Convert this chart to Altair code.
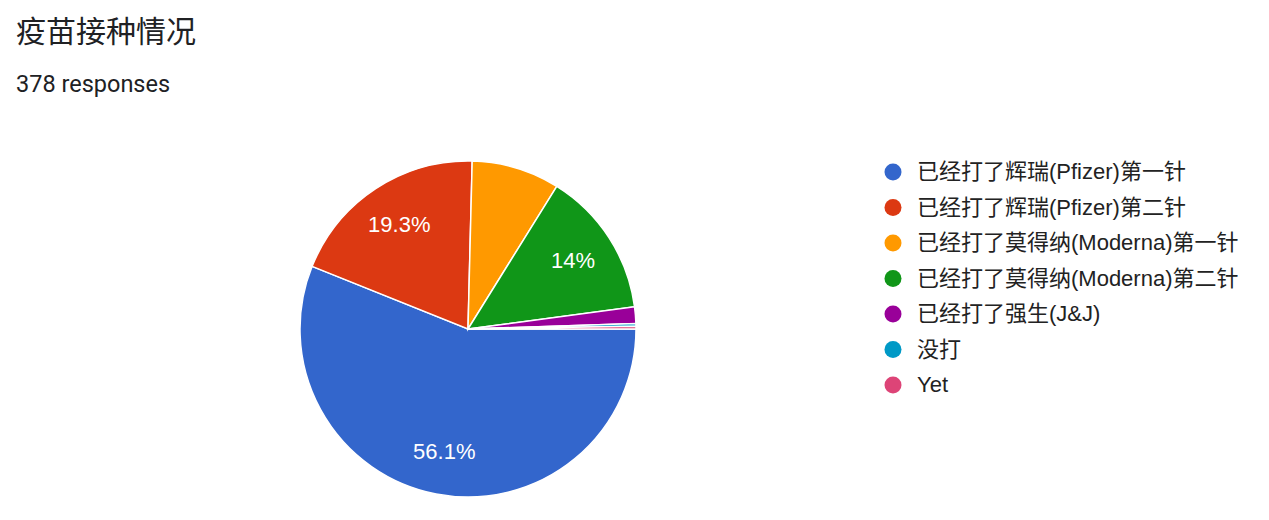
import altair as alt
import pandas as pd

categories = [
    "已经打了辉瑞(Pfizer)第一针",
    "已经打了辉瑞(Pfizer)第二针",
    "已经打了莫得纳(Moderna)第一针",
    "已经打了莫得纳(Moderna)第二针",
    "已经打了强生(J&J)",
    "没打",
    "Yet",
]
counts = [212, 73, 32, 53, 6, 1, 1]
colors = ["#3366cc", "#dc3912", "#ff9900", "#109618", "#990099", "#0099c6", "#dd4477"]
shown_labels = ["56.1%", "19.3%", "", "14%", "", "", ""]

df = pd.DataFrame({
    "category": categories,
    "count": counts,
    "idx": list(range(len(categories))),
    "label": shown_labels,
})

FONT = "Roboto, 'Noto Sans CJK SC', sans-serif"
AFONT = "'Liberation Sans', Arial, 'Noto Sans CJK SC', sans-serif"
CX, CY, R = 460, 221, 168

theta = alt.Theta("count:Q", stack=True,
                  scale=alt.Scale(range=[1.5707963, 7.8539816]))

arcs = alt.Chart(df).mark_arc(radius=R, stroke="white", strokeWidth=1.5).encode(
    theta=theta,
    color=alt.Color(
        "category:N",
        sort=categories,
        scale=alt.Scale(domain=categories, range=colors),
        legend=alt.Legend(
            title=None,
            orient="none",
            legendX=874,
            legendY=53,
            symbolType="circle",
            symbolSize=289,
            symbolStrokeWidth=0,
            labelFontSize=22,
            labelFont=AFONT,
            labelColor="#222222",
            labelOffset=13,
            rowPadding=13.5,
            labelLimit=500,
        ),
    ),
    order=alt.Order("idx:Q"),
    x=alt.value(CX),
    y=alt.value(CY),
)

labels = alt.Chart(df).mark_text(
    radius=125, fontSize=22, font=AFONT, color="white"
).encode(
    theta=theta,
    text="label:N",
    order=alt.Order("idx:Q"),
    x=alt.value(CX),
    y=alt.value(CY),
)

chart = alt.layer(arcs, labels).properties(
    width=1253,
    height=404,
    autosize="none",
    padding={"left": 0, "top": 100, "right": 0, "bottom": 0},
    title=alt.TitleParams(
        text="疫苗接种情况",
        subtitle="378 responses",
        anchor="start",
        font=FONT,
        fontSize=30,
        fontWeight="normal",
        color="#202124",
        subtitleFont=FONT,
        subtitleFontSize=23.5,
        subtitleColor="#202124",
        subtitlePadding=25,
        offset=12,
        dx=8,
    ),
).configure_view(stroke=None)

chart.save("out.html", embed_options={"renderer": "svg", "actions": False})
